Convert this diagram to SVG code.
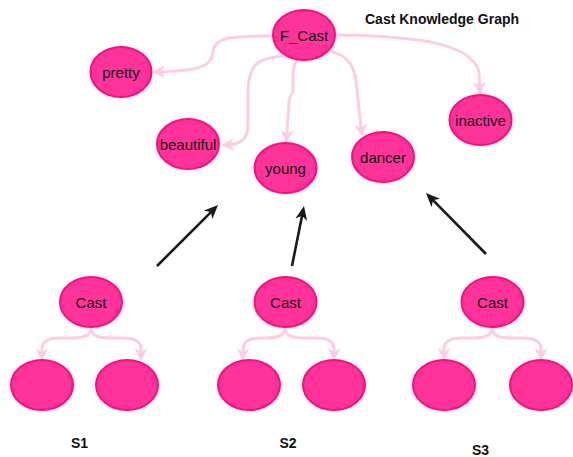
<svg xmlns="http://www.w3.org/2000/svg" width="573" height="457" viewBox="0 0 573 457">
<style>
  .node ellipse { fill: #FF3399; stroke: #FF0A80; stroke-width: 2; }
  .node text { font-family: "Liberation Sans", Arial, sans-serif; font-size: 15px; fill: #111; text-anchor: middle; }
  .pink { fill: none; stroke: #FFCCE5; stroke-width: 3; marker-end: url(#pinkArrow); }
  .black { fill: none; stroke: #1A1A1A; stroke-width: 2.6; marker-end: url(#blackArrow); }
  .label { font-family: "Liberation Sans", Arial, sans-serif; font-size: 14px; font-weight: bold; fill: #111; }
</style>
<defs>
  <marker id="pinkArrow" viewBox="0 0 13 13" refX="9" refY="6.5" markerWidth="13" markerHeight="13" markerUnits="userSpaceOnUse" orient="auto">
    <path d="M0,0 L13,6.5 L0,13 L4,6.5 Z" fill="#FFCCE5"/>
  </marker>
  <marker id="blackArrow" viewBox="0 0 14 12" refX="10" refY="6" markerWidth="14" markerHeight="12" markerUnits="userSpaceOnUse" orient="auto">
    <path d="M0,0 L14,6 L0,12 L4,6 Z" fill="#1A1A1A"/>
  </marker>
</defs>
<rect width="573" height="457" fill="#FFFFFF"/>
<text class="label" x="365" y="23.5" font-size="14.7">Cast Knowledge Graph</text>
<g id="connectors">
  <path class="pink" d="M273,36 C235,36 214,36 213,52 C212,68 195,71 156,72"/>
  <path class="pink" d="M284,56 C256,58 249,66 248,90 L248,125 C248,140 240,144 225,145"/>
  <path class="pink" d="M297,60 C294,64 293,68 293,76 L293,90 C293,95 289,95 289,101 L286.5,139"/>
  <path class="pink" d="M329,51 C348,55 356,66 357,90 L361.6,133"/>
  <path class="pink" d="M336,35 C420,36 472,44 479,72 L480,91"/>
  <path class="pink" d="M91,327 C91,336 84,338 71,338 L60,338 C48,338 42,342 42,349 L42,357"/>
  <path class="pink" d="M91,327 C91,336 98,338 111,338 L123,338 C135,338 141,342 141,349 L141,357"/>
  <path class="pink" d="M285,327 C285,336 278,338 265,338 L261,338 C249,338 243,342 243,349 L243,357"/>
  <path class="pink" d="M285,327 C285,336 292,338 305,338 L316,338 C328,338 334,342 334,349 L334,357"/>
  <path class="pink" d="M492,327 C492,336 485,338 472,338 L462,338 C450,338 444,342 444,349 L444,357"/>
  <path class="pink" d="M492,327 C492,336 499,338 512,338 L523,338 C535,338 541,342 541,349 L541,357"/>
  <path class="black" d="M157,266 L215.2,207.8"/>
  <path class="black" d="M292,266 L303.2,209.9"/>
  <path class="black" d="M486,254 L428.8,195.9"/>
</g>
<g id="f_cast" class="node"><ellipse cx="304" cy="35" rx="31" ry="25"/><text x="304" y="40.5">F_Cast</text></g>
<g id="pretty" class="node"><ellipse cx="121" cy="72" rx="30.5" ry="25"/><text x="121" y="77.5">pretty</text></g>
<g id="beautiful" class="node"><ellipse cx="188" cy="144" rx="31" ry="25"/><text x="188" y="149.5">beautiful</text></g>
<g id="young" class="node"><ellipse cx="285.5" cy="168" rx="31" ry="25"/><text x="285.5" y="173.5">young</text></g>
<g id="dancer" class="node"><ellipse cx="383" cy="157" rx="31" ry="25"/><text x="383" y="162.5">dancer</text></g>
<g id="inactive" class="node"><ellipse cx="480.5" cy="120" rx="31" ry="25"/><text x="480.5" y="125.5">inactive</text></g>
<g id="cast1" class="node"><ellipse cx="91" cy="302" rx="31" ry="25"/><text x="91" y="307.5">Cast</text></g>
<g id="cast2" class="node"><ellipse cx="285.5" cy="302" rx="31" ry="25"/><text x="285.5" y="307.5">Cast</text></g>
<g id="cast3" class="node"><ellipse cx="492.5" cy="302" rx="31" ry="25"/><text x="492.5" y="307.5">Cast</text></g>
<g id="s1_child1" class="node"><ellipse cx="42" cy="385" rx="31" ry="25"/></g>
<g id="s1_child2" class="node"><ellipse cx="127" cy="385" rx="31" ry="25"/></g>
<g id="s2_child1" class="node"><ellipse cx="249" cy="385" rx="31" ry="25"/></g>
<g id="s2_child2" class="node"><ellipse cx="334" cy="385" rx="31" ry="25"/></g>
<g id="s3_child1" class="node"><ellipse cx="444" cy="385" rx="31" ry="25"/></g>
<g id="s3_child2" class="node"><ellipse cx="541" cy="385" rx="31" ry="25"/></g>
<text class="label" x="79.5" y="448" text-anchor="middle">S1</text>
<text class="label" x="288" y="448" text-anchor="middle">S2</text>
<text class="label" x="480.5" y="454.5" text-anchor="middle">S3</text>
</svg>
